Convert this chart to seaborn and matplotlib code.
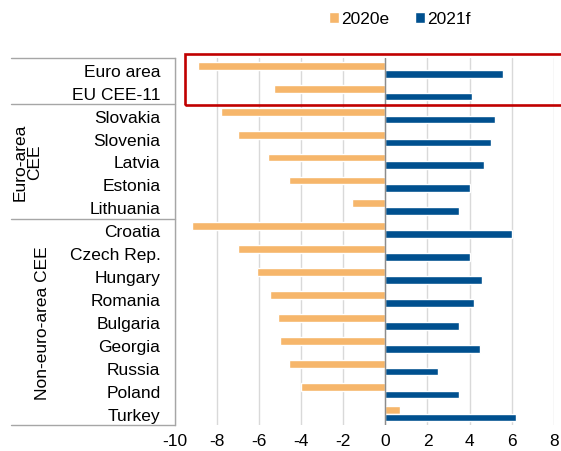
import matplotlib
matplotlib.use("Agg")
import matplotlib.pyplot as plt
import seaborn as sns
import pandas as pd
from matplotlib.lines import Line2D
from matplotlib.patches import Rectangle

categories = ["Euro area", "EU CEE-11", "Slovakia", "Slovenia", "Latvia", "Estonia",
              "Lithuania", "Croatia", "Czech Rep.", "Hungary", "Romania", "Bulgaria",
              "Georgia", "Russia", "Poland", "Turkey"]
vals_2020e = [-8.9, -5.3, -7.8, -7.0, -5.6, -4.6, -1.6, -9.2, -7.0, -6.1, -5.5, -5.1,
              -5.0, -4.6, -4.0, 0.7]
vals_2021f = [5.6, 4.1, 5.2, 5.0, 4.7, 4.0, 3.5, 6.0, 4.0, 4.6, 4.2, 3.5,
              4.5, 2.5, 3.5, 6.2]
series = ["2020e", "2021f"]
xticks = [-10, -8, -6, -4, -2, 0, 2, 4, 6, 8]
group_labels = ["Euro-area\nCEE", "Non-euro-area CEE"]

df = pd.DataFrame({
    "country": categories * 2,
    "value": vals_2020e + vals_2021f,
    "year": [series[0]] * len(categories) + [series[1]] * len(categories),
})

sns.set_style("white")
plt.rcParams["font.family"] = ["Liberation Sans", "DejaVu Sans"]
plt.rcParams["text.color"] = "black"
plt.rcParams["xtick.color"] = "black"
plt.rcParams["ytick.color"] = "black"
plt.rcParams["axes.labelcolor"] = "black"
FS = 12.5

W, H = 561, 452
fig = plt.figure(figsize=(W / 100, H / 100), dpi=100)
ax_left, ax_right = 175 / W, 553.7 / W
ax_top, ax_bot = 1 - 59.3 / H, 1 - 426 / H
ax = fig.add_axes([ax_left, ax_bot, ax_right - ax_left, ax_top - ax_bot])

orange = "#F6B66B"
blue = "#00508F"
sns.barplot(data=df, y="country", x="value", hue="year", order=categories,
            hue_order=series, palette=[orange, blue], orient="h", width=0.68,
            gap=0, saturation=1, ax=ax, legend=True)

ax.set_xlim(-10, 8)
ax.set_ylim(len(categories) - 0.5, -0.5)
ax.set_xticks(xticks)
ax.set_xticklabels([str(t) for t in xticks], fontsize=FS, color="black")
ax.set_xlabel("")
ax.set_ylabel("")
ax.tick_params(axis="x", length=0, pad=5.5, labelcolor="black")
ax.tick_params(axis="y", length=0, pad=10.5, labelsize=FS, labelcolor="black")
ax.grid(axis="x", color="#d9d9d9", linewidth=1)
ax.set_axisbelow(True)
for s in ["top", "right", "bottom"]:
    ax.spines[s].set_visible(False)
ax.spines["left"].set_color("#a6a6a6")
ax.spines["left"].set_linewidth(1)
ax.axvline(0, color="#8c8c8c", linewidth=1, zorder=3)

# legend
sns.move_legend(ax, "center", bbox_to_anchor=(400 / W, 1 - 20 / H),
                bbox_transform=fig.transFigure, ncol=2, frameon=False, title=None,
                fontsize=FS, handlelength=0.55, handleheight=0.55,
                handletextpad=0.15, columnspacing=1.5, borderpad=0)
for t in ax.get_legend().get_texts():
    t.set_color("black")

# table lines in label area
for ypx in [59.3, 105.2, 219.7, 426]:
    fig.add_artist(Line2D([11 / W, 175 / W], [1 - ypx / H, 1 - ypx / H],
                          color="#a6a6a6", linewidth=1))

# group labels
fig.text(27 / W, 1 - 162 / H, group_labels[0], rotation=90, ha="center",
         va="center", fontsize=FS, linespacing=0.95, color="black")
fig.text(43 / W, 1 - 323 / H, group_labels[1], rotation=90, ha="center",
         va="center", fontsize=FS, color="black")

# red highlight box
fig.add_artist(Rectangle((185 / W, 1 - 105.7 / H), (565 - 185) / W, (105.7 - 54.7) / H,
                         fill=False, edgecolor="#C00000", linewidth=1.9))

fig.savefig("out.png", dpi=100)
